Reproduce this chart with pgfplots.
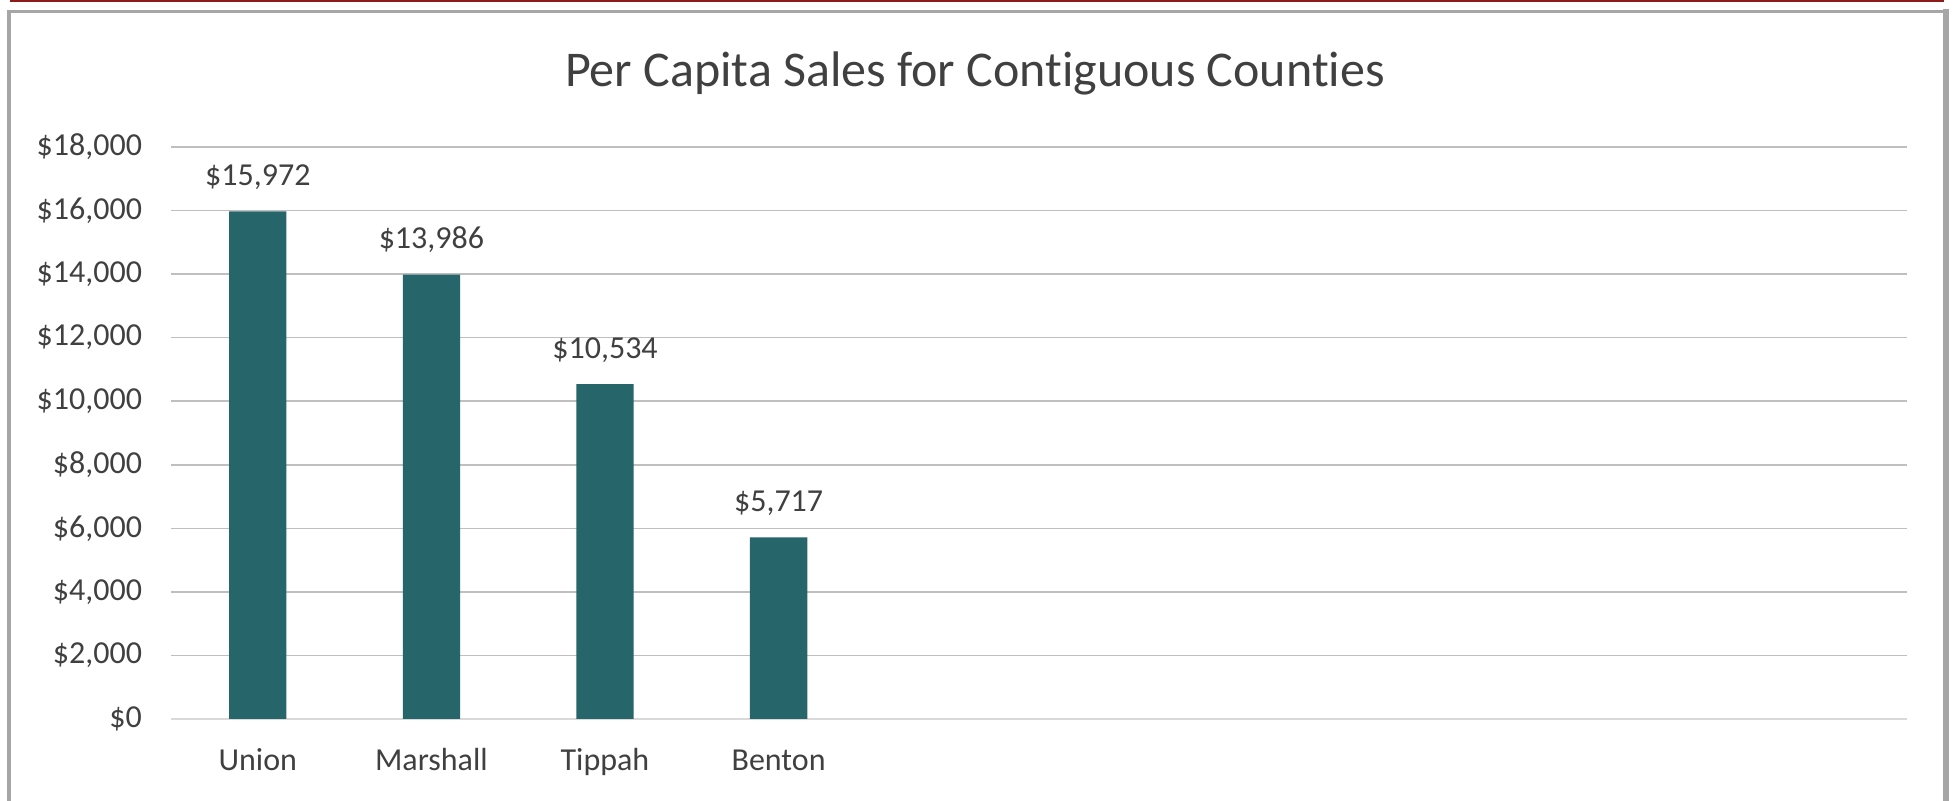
\documentclass[border=0pt]{standalone}
\usepackage{pgfplots}
\pgfplotsset{compat=1.18}
\usepackage{fontspec}
\setmainfont{Carlito}[Ligatures={NoCommon}]
\definecolor{bar}{RGB}{38,101,106}
\definecolor{txt}{RGB}{64,64,64}
\definecolor{grid}{RGB}{217,217,217}
\definecolor{frame}{RGB}{166,166,166}
\definecolor{redline}{RGB}{140,28,28}
\begin{document}
\begin{tikzpicture}
\useasboundingbox (0,0) rectangle (976.5pt,400.5pt);
\fill[white] (0,0) rectangle (976.5pt,400.5pt);
% frame
\draw[frame, line width=2pt] (4.5pt,-2pt) -- (4.5pt,395.5pt);
\draw[frame, line width=1.6pt] (3.5pt,394.75pt) -- (974.5pt,394.75pt);
\draw[frame, line width=3pt] (973pt,-2pt) -- (973pt,396pt);
\draw[redline, line width=1.2pt] (5pt,400pt) -- (972pt,400pt);
\node[anchor=base, text=txt, font=\fontsize{25}{30}\selectfont] at (487.5pt,357pt) {Per Capita Sales for Contiguous Counties};
\begin{axis}[
  at={(85.5pt,41pt)}, anchor=south west,
  scale only axis, width=868pt, height=286pt,
  xmin=-0.5, xmax=9.5, ymin=0, ymax=18000,
  ytick distance=2000,
  scaled y ticks=false,
  xtick={0,1,2,3},
  xticklabels={Union,Marshall,Tippah,Benton},
  axis x line*=bottom,
  axis y line*=left,
  x axis line style={grid, line width=0.75pt, -},
  y axis line style={draw=none},
  major tick length=0pt,
  xmajorgrids=false,
  ymajorgrids=true,
  grid style={grid, line width=0.75pt},
  tick label style={text=txt, font=\fontsize{16}{19}\selectfont},
  /pgf/number format/assume math mode=true,
  /pgf/number format/.cd, fixed, 1000 sep={,},
  /pgfplots/.cd,
  yticklabel={\$\pgfmathprintnumber{\tick}},
  yticklabel style={anchor=east, xshift=-11pt},
  xticklabel style={anchor=base, yshift=-26pt},
  clip=false,
  ybar, bar width=0.33,
  nodes near coords={\$\pgfmathprintnumber{\pgfplotspointmeta}},
  nodes near coords style={anchor=base, yshift=13pt, text=txt, font=\fontsize{16}{19}\selectfont},
]
\addplot[fill=bar, draw=none] coordinates {(0,15972) (1,13986) (2,10534) (3,5717)};
\end{axis}
\end{tikzpicture}
\end{document}
